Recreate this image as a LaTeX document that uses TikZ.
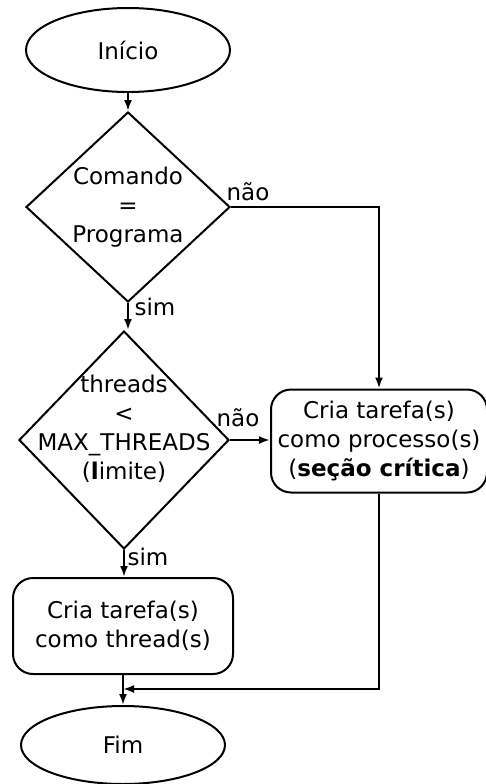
\documentclass[tikz,border=0pt]{standalone}
\usepackage{fontspec}
\setmainfont{DejaVu Sans}
\usetikzlibrary{shapes.geometric, positioning, arrows.meta}

\tikzset{
  terminal/.style={ellipse, draw, line width=1pt, minimum width=102pt, minimum height=42pt, inner sep=0pt},
  decision/.style={diamond, draw, line width=1pt, inner sep=0pt},
  taskbox/.style={rectangle, rounded corners=10pt, draw, line width=1pt, align=center, inner sep=0pt},
  flow/.style={line width=1pt, -{Latex[length=5.5pt,width=4pt]}},
  answer/.style={inner sep=0pt}
}

\begin{document}
\begin{tikzpicture}[x=0.5pt, y=-0.5pt, font=\fontsize{11.5}{14.5}\selectfont]
    \useasboundingbox (0,0) rectangle (486,784);
    % Draw the start, the two tests and the end
    \node[terminal] (start) at (128,50) {Início};
    \node[decision, minimum width=102pt, minimum height=95pt] (cond1) at (128,207) {};
    \node[align=center] (cond1txt) at (cond1) {Comando\\=\\Programa};
    \node[decision, minimum width=105pt, minimum height=109pt] (cond2) at (124,440) {};
    \node[align=center] (cond2txt) at (124,429) {threads\\<\\MAX\_THREADS\\(\textbf{l}imite)};
    \node[taskbox, minimum width=108pt, minimum height=51.5pt] (proc) at (379,441)
        {Cria tarefa(s)\\como processo(s)\\(\textbf{seção crítica})};
    \node[taskbox, minimum width=110pt, minimum height=48pt] (thread) at (123,626)
        {Cria tarefa(s)\\como thread(s)};
    \node[terminal, minimum height=39pt] (fim) at (123,745) {Fim};

    % Draw the connectors
    \draw[flow] (start.south) -- (cond1.north);
    \draw[flow] (cond1.east) -| (proc.north);
    \draw[flow] (cond1.south) -- (cond1.south |- cond2.north);
    \draw[flow] (cond2.east) -- (cond2.east -| proc.west);
    \draw[flow] (cond2.south) -- (cond2.south |- thread.north);
    \draw[flow] (thread.south) -- (fim.north);
    \coordinate (merge) at (thread.south |- 0,689);
    \draw[flow] (proc.south) |- (merge);

    \node[answer] (no1) at (248,192) {não};
    \node[answer] (yes1) at (155,307) {sim};
    \node[answer] (no2) at (238,418) {não};
    \node[answer] (yes2) at (148,557) {sim};
  \end{tikzpicture}
\end{document}
